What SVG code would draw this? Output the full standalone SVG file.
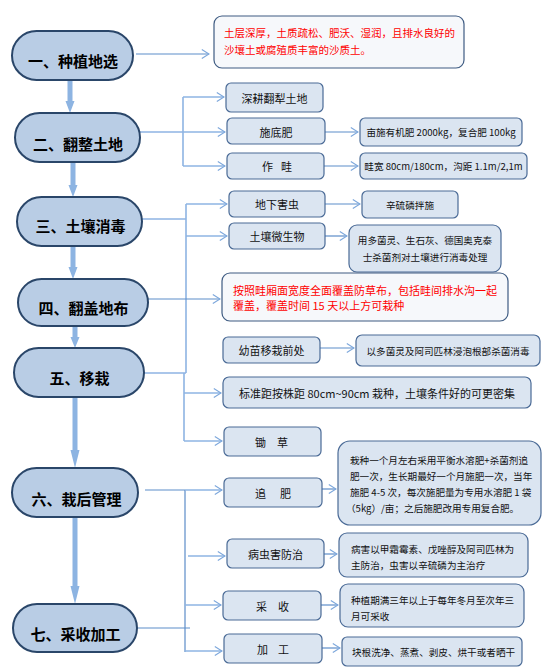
<svg xmlns="http://www.w3.org/2000/svg" width="548" height="671" viewBox="0 0 548 671">
<defs>
<style>
text{font-family:"Noto Sans CJK SC","Noto Sans",sans-serif;dominant-baseline:central;fill:#111}
.node rect{fill:#B9CDE5;stroke:#2A4669;stroke-width:2}
.node text{font-size:15px;font-weight:bold;text-anchor:middle;fill:#000}
.sb{fill:#DBE5F1;stroke:#4A6A96;stroke-width:1.2}
.rb{fill:#F6F8FB;stroke:#3E5B82;stroke-width:1.2}
.t11{font-size:11px;text-anchor:middle}
.t11s{font-size:11px}
.t10{font-size:9.6px;text-anchor:middle}
.t95{font-size:9.6px}
.red{fill:#FF0000}
.c1{stroke:#8EB4E3;stroke-width:1.6;fill:none}
.c2{stroke:#5D8DC9;stroke-width:1.2;fill:none}
.flow{fill:#8DB4E2}
</style>
<marker id="ah" viewBox="0 0 10 12" refX="9" refY="6" markerWidth="9" markerHeight="11" markerUnits="userSpaceOnUse" orient="auto">
<path d="M1,1 L9,6 L1,11" fill="none" stroke="#7EA8DC" stroke-width="1.3"/>
</marker>
</defs>
<rect width="548" height="671" fill="#fff"/>

<g id="connectors">
<path class="flow" d="M67.5,80 h5 v21 h2 l-4.5,12 l-4.5,-12 h2 z"/>
<path class="flow" d="M70.5,162 h5 v23 h2 l-4.5,12 l-4.5,-12 h2 z"/>
<path class="flow" d="M70.5,246 h5 v21 h2 l-4.5,12 l-4.5,-12 h2 z"/>
<path class="flow" d="M72.5,326 h5 v11 h2 l-4.5,11 l-4.5,-11 h2 z"/>
<path class="flow" d="M72.5,397 h5 v53 h2 l-4.5,18 l-4.5,-18 h2 z"/>
<path class="flow" d="M72.5,517 h5 v69 h2 l-4.5,18 l-4.5,-18 h2 z"/>
<line class="c2" x1="136" y1="54" x2="209" y2="54" marker-end="url(#ah)"/>
<path class="c1" d="M140,132 H183 M183,97 V166"/>
<line class="c1" x1="183" y1="97" x2="224" y2="97" marker-end="url(#ah)"/>
<line class="c1" x1="183" y1="132" x2="225" y2="132" marker-end="url(#ah)"/>
<line class="c1" x1="183" y1="166" x2="225" y2="166" marker-end="url(#ah)"/>
<line class="c2" x1="325" y1="132" x2="358" y2="132" marker-end="url(#ah)"/>
<line class="c2" x1="324" y1="166" x2="358" y2="166" marker-end="url(#ah)"/>
<path class="c1" d="M142,219 H186 M186,204 V373"/>
<line class="c1" x1="186" y1="204" x2="227" y2="204" marker-end="url(#ah)"/>
<line class="c1" x1="186" y1="236" x2="227" y2="236" marker-end="url(#ah)"/>
<line class="c2" x1="325" y1="204" x2="360" y2="204" marker-end="url(#ah)"/>
<line class="c2" x1="325" y1="236" x2="347" y2="236" marker-end="url(#ah)"/>
<line class="c2" x1="148" y1="299" x2="220" y2="299" marker-end="url(#ah)"/>
<line class="c2" x1="320" y1="348" x2="354" y2="348" marker-end="url(#ah)"/>
<path class="c1" d="M144,373 H186 M184,373 V441"/>
<line class="c1" x1="184" y1="393" x2="221" y2="393" marker-end="url(#ah)"/>
<line class="c1" x1="184" y1="441" x2="222" y2="441" marker-end="url(#ah)"/>
<path class="c2" d="M145,490 H185 M185,490 V652"/>
<line class="c1" x1="185" y1="490" x2="222" y2="490" marker-end="url(#ah)"/>
<line class="c1" x1="188" y1="556" x2="225" y2="556" marker-end="url(#ah)"/>
<line class="c1" x1="185" y1="605" x2="221" y2="605" marker-end="url(#ah)"/>
<line class="c1" x1="185" y1="651" x2="222" y2="651" marker-end="url(#ah)"/>
<line class="c2" x1="322" y1="489" x2="336" y2="489" marker-end="url(#ah)"/>
<line class="c2" x1="324" y1="554" x2="337" y2="554" marker-end="url(#ah)"/>
<line class="c2" x1="321" y1="605" x2="338" y2="605" marker-end="url(#ah)"/>
<line class="c2" x1="322" y1="648" x2="340" y2="648" marker-end="url(#ah)"/>
<line class="c2" x1="137" y1="628" x2="190" y2="628"/>
</g>

<g id="n1" class="node"><rect x="12" y="31" width="121" height="49" rx="24.5"/><text x="73" y="60">一、种植地选</text></g>
<g id="n2" class="node"><rect x="15" y="113" width="125" height="49" rx="24.5"/><text x="78" y="143">二、翻整土地</text></g>
<g id="n3" class="node"><rect x="17" y="197" width="125" height="49" rx="24.5"/><text x="80.5" y="225">三、土壤消毒</text></g>
<g id="n4" class="node"><rect x="18" y="279" width="130" height="47" rx="23.5"/><text x="83.5" y="307">四、翻盖地布</text></g>
<g id="n5" class="node"><rect x="14" y="348" width="130" height="49" rx="24.5"/><text x="79.5" y="377.5">五、移栽</text></g>
<g id="n6" class="node"><rect x="12" y="468" width="126" height="49" rx="24.5"/><text x="76.5" y="498">六、栽后管理</text></g>
<g id="n7" class="node"><rect x="13" y="604" width="124" height="48" rx="24"/><text x="75.5" y="633">七、采收加工</text></g>

<g id="b1"><rect class="rb" x="214" y="16" width="250" height="52" rx="8"/>
<text class="red" x="224" y="32.5" font-size="10.5">土层深厚，土质疏松、肥沃、湿润，且排水良好的</text>
<text class="red" x="224" y="49.5" font-size="10.5">沙壤土或腐殖质丰富的沙质土。</text></g>

<g id="b2a"><rect class="sb" x="226" y="83" width="97" height="29" rx="5"/><text class="t11" x="274.5" y="97.5">深耕翻犁土地</text></g>
<g id="b2b"><rect class="sb" x="227" y="118" width="98" height="26" rx="5"/><text class="t11" x="276" y="131.5">施底肥</text></g>
<g id="b2c"><rect class="sb" x="227" y="153" width="97" height="26" rx="5"/><text class="t11s" x="262 281" y="166">作畦</text></g>
<g id="b2d"><rect class="sb" x="360" y="118" width="162" height="28" rx="5"/><text class="t10" x="441" y="132">亩施有机肥 2000kg，复合肥 100kg</text></g>
<g id="b2e"><rect class="sb" x="360" y="153" width="167" height="26" rx="5"/><text class="t10" x="443.5" y="166">畦宽 80cm/180cm，沟距 1.1m/2,1m</text></g>

<g id="b3a"><rect class="sb" x="229" y="191" width="96" height="26" rx="5"/><text class="t11" x="277" y="204">地下害虫</text></g>
<g id="b3b"><rect class="sb" x="229" y="223" width="96" height="26" rx="5"/><text class="t11" x="277" y="236">土壤微生物</text></g>
<g id="b3c"><rect class="sb" x="362" y="191" width="96" height="27" rx="5"/><text class="t10" x="410" y="204.5">辛硫磷拌施</text></g>
<g id="b3d"><rect class="sb" x="349" y="225" width="152" height="47" rx="8"/>
<text class="t95" x="425" y="239.5" text-anchor="middle">用多菌灵、生石灰、德国奥克泰</text>
<text class="t95" x="425" y="256.5" text-anchor="middle">士杀菌剂对土壤进行消毒处理</text></g>

<g id="b4"><rect class="rb" x="222" y="273" width="286" height="48" rx="8"/>
<text class="red" x="233" y="289.5" font-size="11">按照畦厢面宽度全面覆盖防草布，包括畦间排水沟一起</text>
<text class="red" x="233" y="305" font-size="11">覆盖，覆盖时间 15 天以上方可栽种</text></g>

<g id="b5a"><rect class="sb" x="223" y="337" width="97" height="26" rx="5"/><text class="t11" x="271.5" y="350">幼苗移栽前处</text></g>
<g id="b5b"><rect class="sb" x="356" y="335" width="184" height="31" rx="6"/><text class="t95" x="448" y="350.5" text-anchor="middle">以多菌灵及阿司匹林浸泡根部杀菌消毒</text></g>
<g id="b5c"><rect class="sb" x="223" y="377" width="308" height="31" rx="6"/><text class="t11" x="377" y="392.5">标准距按株距 80cm~90cm 栽种，土壤条件好的可更密集</text></g>
<g id="b5d"><rect class="sb" x="224" y="427" width="97" height="29" rx="5"/><text class="t11s" x="255 277" y="441.5">锄草</text></g>

<g id="b6a"><rect class="sb" x="224" y="478" width="98" height="29" rx="5"/><text class="t11s" x="255 280" y="492.5">追肥</text></g>
<g id="b6b"><rect class="sb" x="338" y="441" width="203" height="84" rx="12"/>
<text class="t95" x="350" y="460">栽种一个月左右采用平衡水溶肥+杀菌剂追</text>
<text class="t95" x="350" y="476">肥一次，生长期最好一个月施肥一次，当年</text>
<text class="t95" x="350" y="492">施肥 4-5 次，每次施肥量为专用水溶肥 1 袋</text>
<text class="t95" x="346" y="507.5">（5kg）/亩；之后施肥改用专用复合肥。</text></g>
<g id="b6c"><rect class="sb" x="227" y="539" width="97" height="29" rx="5"/><text class="t11" x="275.5" y="554">病虫害防治</text></g>
<g id="b6d"><rect class="sb" x="339" y="533" width="189" height="44" rx="8"/>
<text class="t95" x="351" y="548.5">病害以甲霜霉素、戊唑醇及阿司匹林为</text>
<text class="t95" x="351" y="564.5">主防治，虫害以辛硫磷为主治疗</text></g>
<g id="b6e"><rect class="sb" x="223" y="591" width="98" height="29" rx="5"/><text class="t11s" x="256 278" y="605.5">采收</text></g>
<g id="b6f"><rect class="sb" x="340" y="584" width="184" height="43" rx="8"/>
<text class="t95" x="351" y="599.5">种植期满三年以上于每年冬月至次年三</text>
<text class="t95" x="351" y="615.5">月可采收</text></g>
<g id="b6g"><rect class="sb" x="224" y="634" width="98" height="29" rx="5"/><text class="t11s" x="257 278" y="648.5">加工</text></g>
<g id="b6h"><rect class="sb" x="342" y="637" width="180" height="29" rx="5"/><text class="t95" x="352" y="651.5">块根洗净、蒸煮、剥皮、烘干或者晒干</text></g>
</svg>
